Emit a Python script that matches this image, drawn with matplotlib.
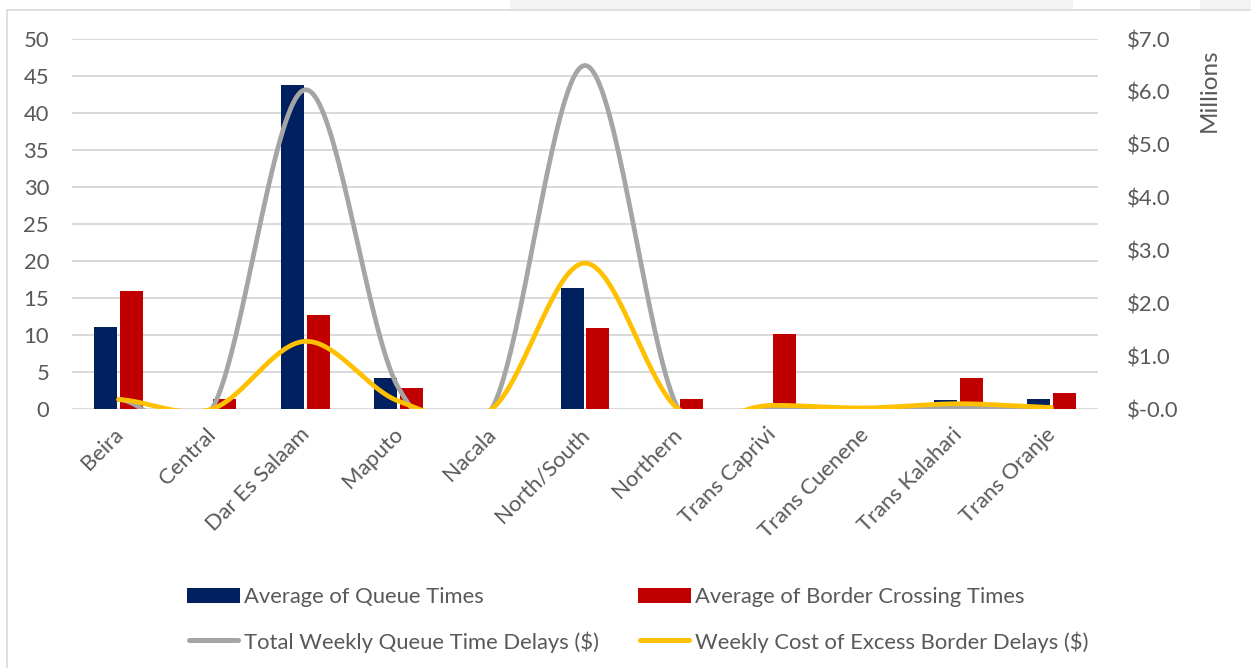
import numpy as np
import matplotlib
matplotlib.use("Agg")
import matplotlib.pyplot as plt
import matplotlib.transforms as mtransforms
from matplotlib.patches import Rectangle
from matplotlib.lines import Line2D

# ---- data -------------------------------------------------------------
corridors = ["Beira", "Central", "Dar Es Salaam", "Maputo", "Nacala", "North/South",
             "Northern", "Trans Caprivi", "Trans Cuenene", "Trans Kalahari", "Trans Oranje"]
queue_times = [11.1, 0.0, 43.8, 4.2, 0.0, 16.4, 0.0, 0.0, 0.0, 1.2, 1.3]
border_times = [15.9, 1.3, 12.7, 2.9, 0.0, 11.0, 1.4, 10.2, 0.0, 4.2, 2.2]
# weekly costs, $ millions
queue_delay_cost = [0.18, 0.0, 6.04, 0.40, 0.0, 6.50, 0.0, 0.0, 0.0, 0.02, 0.0]
border_delay_cost = [0.18, 0.0, 1.28, 0.15, 0.0, 2.76, 0.0, 0.07, 0.02, 0.10, 0.03]

left_ticks = [0, 5, 10, 15, 20, 25, 30, 35, 40, 45, 50]
right_ticks = [0, 1, 2, 3, 4, 5, 6, 7]
right_tick_labels = ["$-0.0", "$1.0", "$2.0", "$3.0", "$4.0", "$5.0", "$6.0", "$7.0"]

series_names = ["Average of Queue Times", "Average of Border Crossing Times",
                "Total Weekly Queue Time Delays ($)", "Weekly Cost of Excess Border Delays ($)"]

# ---- style ------------------------------------------------------------
NAVY = "#002060"
RED = "#C00000"
GREY = "#A5A5A5"
GOLD = "#FFC000"
TEXT = "#595959"
GRID = "#D9D9D9"
FONT = "Lato"
FS = 15.8

plt.rcParams["font.family"] = [FONT, "DejaVu Sans"]


def smooth_curve(xs, ys, steps=40):
    """Cardinal (Catmull-Rom) spline through the points, like a smoothed line chart."""
    xs = np.asarray(xs, float)
    ys = np.asarray(ys, float)
    n = len(ys)
    m = np.empty(n)
    m[1:-1] = (ys[2:] - ys[:-2]) / 2.0
    m[0] = (ys[1] - ys[0]) / 2.0
    m[-1] = (ys[-1] - ys[-2]) / 2.0
    out_x, out_y = [], []
    t = np.linspace(0, 1, steps)
    h00 = 2 * t**3 - 3 * t**2 + 1
    h10 = t**3 - 2 * t**2 + t
    h01 = -2 * t**3 + 3 * t**2
    h11 = t**3 - t**2
    for i in range(n - 1):
        out_x.append(xs[i] + t * (xs[i + 1] - xs[i]))
        out_y.append(h00 * ys[i] + h10 * m[i] + h01 * ys[i + 1] + h11 * m[i + 1])
    return np.concatenate(out_x), np.concatenate(out_y)


W, H = 1251, 668
fig = plt.figure(figsize=(W / 100, H / 100), dpi=100)
fig.patch.set_facecolor("white")

# faint page background strips and chart frame
fig.patches.append(Rectangle((510 / W, 1 - 10 / H), 563 / W, 10 / H, transform=fig.transFigure,
                             facecolor="#F4F4F4", edgecolor="none", zorder=0))
fig.patches.append(Rectangle((1200 / W, 1 - 10 / H), 51 / W, 10 / H, transform=fig.transFigure,
                             facecolor="#F4F4F4", edgecolor="none", zorder=0))
fig.lines.append(Line2D([7 / W, 7 / W], [0, 1 - 10 / H], transform=fig.transFigure,
                        color="#D9D9D9", lw=1.2))
fig.lines.append(Line2D([7 / W, 1], [1 - 10 / H, 1 - 10 / H], transform=fig.transFigure,
                        color="#D9D9D9", lw=1.2))

left, right, top, bottom = 72, 1098, 39, 409
ax = fig.add_axes([left / W, 1 - bottom / H, (right - left) / W, (bottom - top) / H])
ax.set_facecolor("none")

x = np.arange(len(corridors))
bw = 0.247
off = 0.139
ax.bar(x - off, queue_times, width=bw, color=NAVY, zorder=3)
ax.bar(x + off, border_times, width=bw, color=RED, zorder=3)

ax.set_xlim(-0.5, len(corridors) - 0.5)
ax.set_ylim(0, 50)
ax.set_yticks(left_ticks)
ax.yaxis.grid(True, color=GRID, lw=1.4, zorder=0)
ax.set_axisbelow(True)
for s in ax.spines.values():
    s.set_visible(False)
ax.tick_params(axis="y", length=0, pad=16.5, labelsize=FS, labelcolor=TEXT)
ax.tick_params(axis="x", length=0, pad=11, labelsize=FS, labelcolor=TEXT)
ax.set_xticks(x)
ax.set_xticklabels(corridors, rotation=45, ha="right", va="top", rotation_mode="anchor")
shift = mtransforms.ScaledTranslation(-6 / 100, 0, fig.dpi_scale_trans)
for lbl in ax.get_xticklabels():
    lbl.set_transform(lbl.get_transform() + shift)

ax2 = ax.twinx()
ax2.set_ylim(0, 7)
ax2.set_yticks(right_ticks)
ax2.set_yticklabels(right_tick_labels)
for s in ax2.spines.values():
    s.set_visible(False)
ax2.tick_params(axis="y", length=0, pad=20.5, labelsize=FS, labelcolor=TEXT)

gx, gy = smooth_curve(x, queue_delay_cost)
yx, yy = smooth_curve(x, border_delay_cost)
ax2.plot(gx, gy, color=GREY, lw=3.4, solid_capstyle="round", zorder=4)
ax2.plot(yx, yy, color=GOLD, lw=3.4, solid_capstyle="round", zorder=5)

fig.text(1209 / W, 1 - 90 / H, "Millions", rotation=90, ha="center", va="center",
         fontsize=17.5, color=TEXT)

# ---- legend -----------------------------------------------------------
entries = [
    ("bar", NAVY, series_names[0], 187, 595),
    ("bar", RED, series_names[1], 638, 595),
    ("line", GREY, series_names[2], 187, 640),
    ("line", GOLD, series_names[3], 638, 640),
]
hl = 53
for kind, col, label, px, py in entries:
    if kind == "bar":
        fig.patches.append(Rectangle((px / W, 1 - (py + 7.5) / H), hl / W, 15 / H,
                                     transform=fig.transFigure, facecolor=col, edgecolor="none"))
    else:
        fig.lines.append(Line2D([(px + 2) / W, (px + hl - 2) / W], [1 - py / H, 1 - py / H],
                                transform=fig.transFigure, color=col, lw=3.6,
                                solid_capstyle="round"))
    fig.text((px + hl + 4) / W, 1 - py / H, label, ha="left", va="center_baseline",
             fontsize=FS, color=TEXT)

fig.savefig("out.png", dpi=100)
